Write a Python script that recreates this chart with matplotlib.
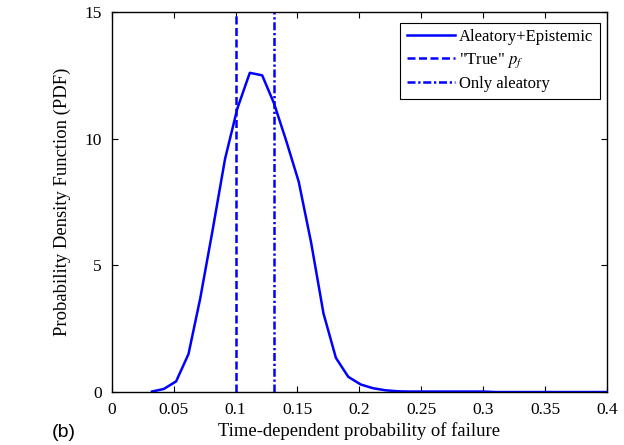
import numpy as np
import matplotlib
matplotlib.use("Agg")
import matplotlib.pyplot as plt

# PDF of time-dependent probability of failure
pf = [0.0325, 0.042, 0.052, 0.062, 0.0715, 0.0815, 0.0915, 0.1015, 0.1115,
      0.1215, 0.131, 0.141, 0.151, 0.161, 0.171, 0.181, 0.191, 0.201, 0.211,
      0.221, 0.231, 0.24, 0.25, 0.27, 0.3, 0.31, 0.35, 0.4]
pdf = [0.02, 0.12, 0.42, 1.5, 3.7, 6.4, 9.2, 11.2, 12.6,
       12.5, 11.4, 9.9, 8.3, 5.9, 3.1, 1.35, 0.6, 0.3, 0.15,
       0.07, 0.03, 0.02, 0.02, 0.02, 0.02, 0.0, 0.0, 0.0]
pf_true = 0.1
pf_aleatory = 0.131

xticks = [0, 0.05, 0.1, 0.15, 0.2, 0.25, 0.3, 0.35, 0.4]
xticklabels = ["0", "0.05", "0.1", "0.15", "0.2", "0.25", "0.3", "0.35", "0.4"]
yticks = [0, 5, 10, 15]

plt.rcParams['font.family'] = ['Liberation Serif', 'DejaVu Serif']
plt.rcParams['mathtext.fontset'] = 'stix'

fig = plt.figure(figsize=(6.24, 4.45), dpi=100)
ax = fig.add_axes([0.179, 0.119, 0.794, 0.854])

blue = (0, 0, 1)
ax.plot(pf, pdf, color=blue, lw=1.8, label="Aleatory+Epistemic")
ax.axvline(pf_true, color=blue, lw=1.8, ls=(0, (3.2, 1.4)), label='"True" $p_f$')
ax.axvline(pf_aleatory, color=blue, lw=1.8, ls=(0, (3.2, 1.1, 0.9, 1.1)), label="Only aleatory")

ax.set_xlim(0, 0.4)
ax.set_ylim(0, 15)
ax.set_xticks(xticks)
ax.set_xticklabels(xticklabels)
ax.set_yticks(yticks)
ax.tick_params(direction='in', top=True, right=True, labelsize=12.5, length=4, pad=7)
for s in ax.spines.values():
    s.set_linewidth(1.0)

ax.set_xlabel("Time-dependent probability of failure", fontsize=13.4, labelpad=3)
ax.set_ylabel("Probability Density Function (PDF)", fontsize=13.4, labelpad=10)

leg = ax.legend(loc='upper right', bbox_to_anchor=(0.985, 0.972), borderaxespad=0,
                fontsize=12, fancybox=False, framealpha=1, edgecolor='black',
                handlelength=2.9, labelspacing=0.38, handletextpad=0.25,
                borderpad=0.38)
leg.get_frame().set_linewidth(0.8)

fig.text(0.083, 0.018, "(b)", fontsize=14, family='Liberation Sans')

fig.savefig("out.png", dpi=100)
